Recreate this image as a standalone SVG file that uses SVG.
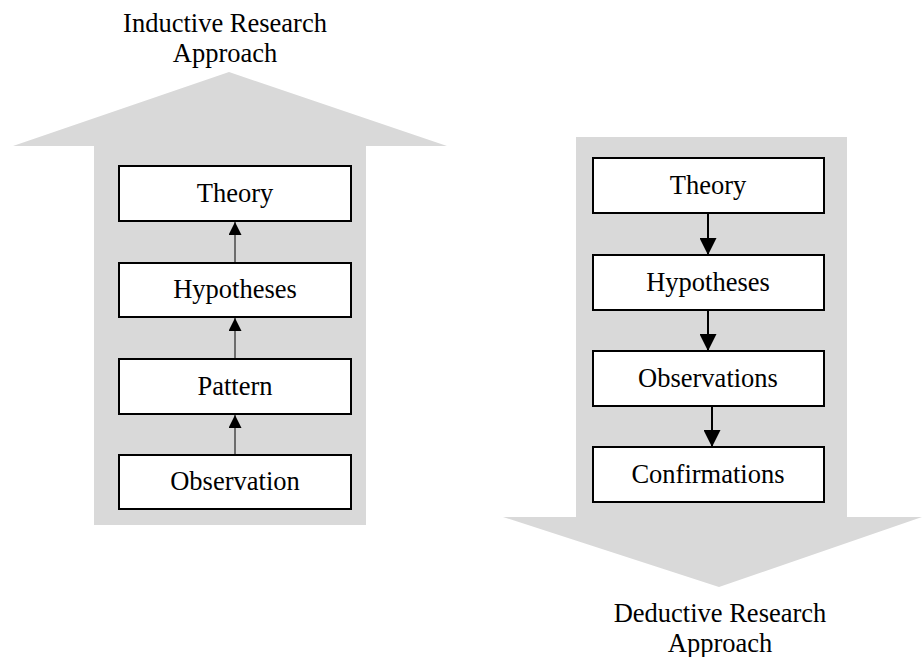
<svg xmlns="http://www.w3.org/2000/svg" width="922" height="657" viewBox="0 0 922 657">
  <style>
    .band { fill: #d9d9d9; stroke: none; }
    .box { fill: #ffffff; stroke: #000000; stroke-width: 2; }
    .lbl { font-family: "Liberation Serif", "Times New Roman", serif; font-size: 26.5px; fill: #000000; text-anchor: middle; }
    .thin { stroke: #000000; stroke-width: 1; fill: none; }
    .bold { stroke: #000000; stroke-width: 2; fill: none; }
  </style>
  <defs>
    <marker id="headSmall" markerUnits="userSpaceOnUse" markerWidth="13" markerHeight="13" viewBox="0 0 13 13" refX="13" refY="6.5" orient="auto">
      <path d="M0,0 L13,6.5 L0,13 Z" fill="#000000"/>
    </marker>
    <marker id="headLarge" markerUnits="userSpaceOnUse" markerWidth="17" markerHeight="17" viewBox="0 0 17 17" refX="17" refY="8.5" orient="auto">
      <path d="M0,0 L17,8.5 L0,17 Z" fill="#000000"/>
    </marker>
  </defs>

  <!-- Broad block arrows -->
  <polygon id="inductive-band" class="band" points="13,146 229,72 447,146 366,146 366,525 94,525 94,146"/>
  <polygon id="deductive-band" class="band" points="576,137 847,137 847,517 922,517 719,587 503,517 576,517"/>

  <!-- Headings -->
  <g id="inductive-title">
    <text class="lbl" x="225" y="32">Inductive Research</text>
    <text class="lbl" x="225" y="62">Approach</text>
  </g>
  <g id="deductive-title">
    <text class="lbl" x="720" y="622">Deductive Research</text>
    <text class="lbl" x="720" y="652">Approach</text>
  </g>

  <!-- Connectors -->
  <g id="connectors">
    <line class="thin" x1="235" y1="263" x2="235" y2="222" marker-end="url(#headSmall)"/>
    <line class="thin" x1="235" y1="359" x2="235" y2="318" marker-end="url(#headSmall)"/>
    <line class="thin" x1="235" y1="455" x2="235" y2="415" marker-end="url(#headSmall)"/>
    <line class="bold" x1="708" y1="213" x2="708" y2="255" marker-end="url(#headLarge)"/>
    <line class="bold" x1="708" y1="310" x2="708" y2="351" marker-end="url(#headLarge)"/>
    <line class="bold" x1="712" y1="406" x2="712" y2="447" marker-end="url(#headLarge)"/>
  </g>

  <!-- Inductive nodes -->
  <g id="ind-theory">
    <rect class="box" x="119" y="166" width="232" height="55"/>
    <text class="lbl" x="235" y="202">Theory</text>
  </g>
  <g id="ind-hypotheses">
    <rect class="box" x="119" y="263" width="232" height="54"/>
    <text class="lbl" x="235" y="298">Hypotheses</text>
  </g>
  <g id="ind-pattern">
    <rect class="box" x="119" y="359" width="232" height="55"/>
    <text class="lbl" x="235" y="395">Pattern</text>
  </g>
  <g id="ind-observation">
    <rect class="box" x="119" y="455" width="232" height="54"/>
    <text class="lbl" x="235" y="490">Observation</text>
  </g>

  <!-- Deductive nodes -->
  <g id="ded-theory">
    <rect class="box" x="593" y="158" width="231" height="55"/>
    <text class="lbl" x="708" y="194">Theory</text>
  </g>
  <g id="ded-hypotheses">
    <rect class="box" x="593" y="255" width="231" height="55"/>
    <text class="lbl" x="708" y="291">Hypotheses</text>
  </g>
  <g id="ded-observations">
    <rect class="box" x="593" y="351" width="231" height="55"/>
    <text class="lbl" x="708" y="387">Observations</text>
  </g>
  <g id="ded-confirmations">
    <rect class="box" x="593" y="447" width="231" height="55"/>
    <text class="lbl" x="708" y="483">Confirmations</text>
  </g>
</svg>
